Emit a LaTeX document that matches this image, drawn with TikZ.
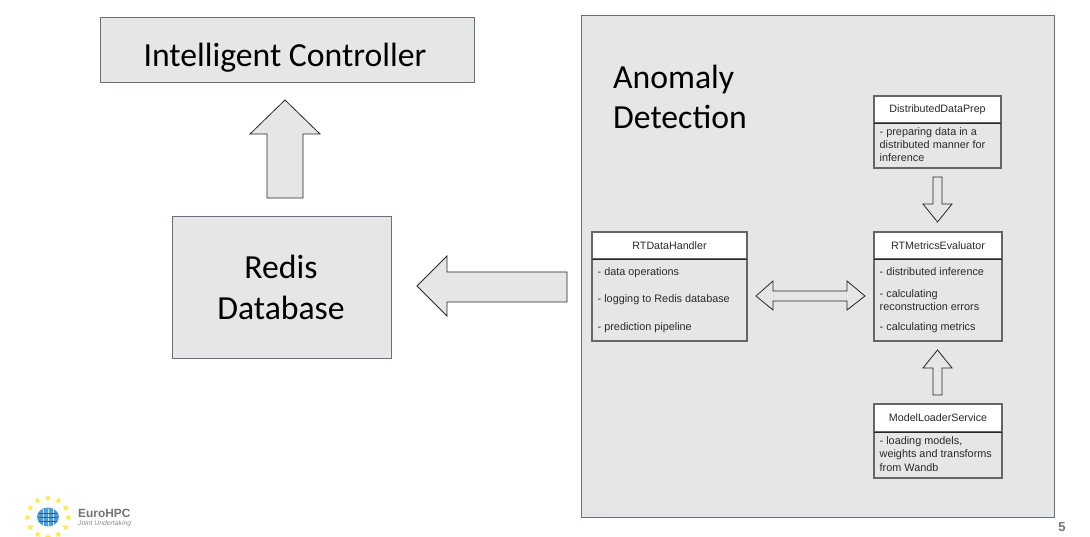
\documentclass[tikz,border=0pt]{standalone}
\usepackage{fontspec}
\setmainfont{Liberation Sans}
\newfontfamily\carlitofont{Carlito}
\usetikzlibrary{shapes.geometric}
\definecolor{panel}{HTML}{E6E6E6}
\definecolor{edge}{HTML}{66707F}
\definecolor{umledge}{HTML}{666666}
\definecolor{txt}{HTML}{2A2A2A}
\definecolor{logoblue}{HTML}{4C9FDC}
\definecolor{logostar}{HTML}{FBE84A}
\tikzset{
 x=1pt,y=-1pt,
 panelbox/.style={draw=edge,fill=panel,line width=0.8pt},
 blockarrow/.style={draw=black!85,fill=panel,line width=0.8pt,line join=miter},
 bigtext/.style={font=\carlitofont\fontsize{33.7}{40.5}\selectfont,text=black,inner sep=0pt,align=center},
 umlhead/.style={draw=umledge,fill=white,line width=1.1pt,inner sep=0pt},
 umlbody/.style={draw=umledge,fill=panel,line width=1.1pt,inner sep=0pt},
 umldiv/.style={draw=black!85,line width=0.8pt},
 umltitle/.style={font=\fontsize{10.7}{13}\selectfont,text=txt,inner sep=0pt},
 umlline/.style={font=\fontsize{10.85}{13.2}\selectfont,text=txt,inner sep=0pt,anchor=west,align=left},
}
\newcommand{\umlclass}[7]{% name,x0,y0,x1,ydiv,y1,title
 \path[umlbody] (#2,#5) rectangle (#4,#6);
 \path[umlhead] (#2,#3) rectangle (#4,#5);
 \path[umldiv] (#2,#5) -- (#4,#5);
 \node[umltitle] (#1) at ({(#2+#4)/2},{(#3+#5)/2}) {#7};
}
\begin{document}
\begin{tikzpicture}
\useasboundingbox (0,0) rectangle (1090,537);
\fill[white] (0,0) rectangle (1090,537);
% big boxes
\path[panelbox] (100,17) rectangle (474,82);
\node[bigtext] (ic) at (285,58) {Intelligent Controller};
\path[panelbox] (172,216) rectangle (391,358);
\node[bigtext] (redis) at (281,287.5) {Redis\\Database};
\path[panelbox] (581,15) rectangle (1054,517);
\node[bigtext,anchor=west,align=left] (ad) at (613,97) {Anomaly\\Detection};
% block arrows
\path[blockarrow] (285,100) -- (320,134) -- (303,134) -- (303,198) -- (267,198) -- (267,134) -- (250,134) -- cycle;
\path[blockarrow] (417,286) -- (447,256) -- (447,272) -- (567,272) -- (567,302) -- (447,302) -- (447,316) -- cycle;
\path[blockarrow] (937.5,222) -- (952,204) -- (942,204) -- (942,177) -- (933,177) -- (933,204) -- (923,204) -- cycle;
\path[blockarrow] (937.5,350) -- (952,368) -- (942,368) -- (942,395) -- (933,395) -- (933,368) -- (923,368) -- cycle;
\path[blockarrow] (756,296) -- (773,281) -- (773,291) -- (847,291) -- (847,281) -- (865,296) -- (847,310) -- (847,301) -- (773,301) -- (773,310) -- cycle;
% classes
\umlclass{prep}{874}{96}{1001}{123}{168}{DistributedDataPrep}
\node[umlline] (prepb) at (879.5,144.5) {- preparing data in a\\distributed manner for\\inference};
\umlclass{hand}{592}{232}{747}{259}{341}{RTDataHandler}
\node[umlline] (h1) at (597.5,273) {- data operations};
\node[umlline] (h2) at (597.5,300) {- logging to Redis database};
\node[umlline] (h3) at (597.5,327.5) {- prediction pipeline};
\umlclass{eval}{874}{232}{1002}{259}{341}{RTMetricsEvaluator}
\node[umlline] (e1) at (879.5,272) {- distributed inference};
\node[umlline] (e2) at (879.5,300.5) {- calculating\\reconstruction errors};
\node[umlline] (e3) at (879.5,327.5) {- calculating metrics};
\umlclass{load}{874}{404}{1002}{432}{478}{ModelLoaderService}
\node[umlline] (loadb) at (879.5,454) {- loading models,\\weights and transforms\\from Wandb};
% logo
\foreach \a in {0,30,...,330}
  \node[star,star points=5,star point ratio=2.2,fill=logostar,inner sep=0pt,minimum size=6.5pt] at ({48+20.5*cos(\a)},{517.5+19.5*sin(\a)}) {};
\fill[logoblue] (48,517) ellipse [x radius=11,y radius=9.5];
\foreach \x in {42.5,47.5,52.5}
  \fill[white!75!logoblue] (\x,508.5) rectangle (\x+1,525.5);
\foreach \y in {513,517,521}
  \fill[logoblue!60!black] (39,\y) rectangle (57,\y+0.5);
\node[font=\bfseries\fontsize{11.9}{12}\selectfont,text=black!55,inner sep=0pt,anchor=west] (euro) at (78,513) {EuroHPC};
\node[font=\itshape\fontsize{6.8}{7}\selectfont,text=black!45,inner sep=0pt,anchor=west] (ju) at (78,524) {Joint Undertaking};
\node[font=\bfseries\fontsize{13}{14}\selectfont,text=black!55,inner sep=0pt] (pn) at (1062,527) {5};
\end{tikzpicture}
\end{document}
